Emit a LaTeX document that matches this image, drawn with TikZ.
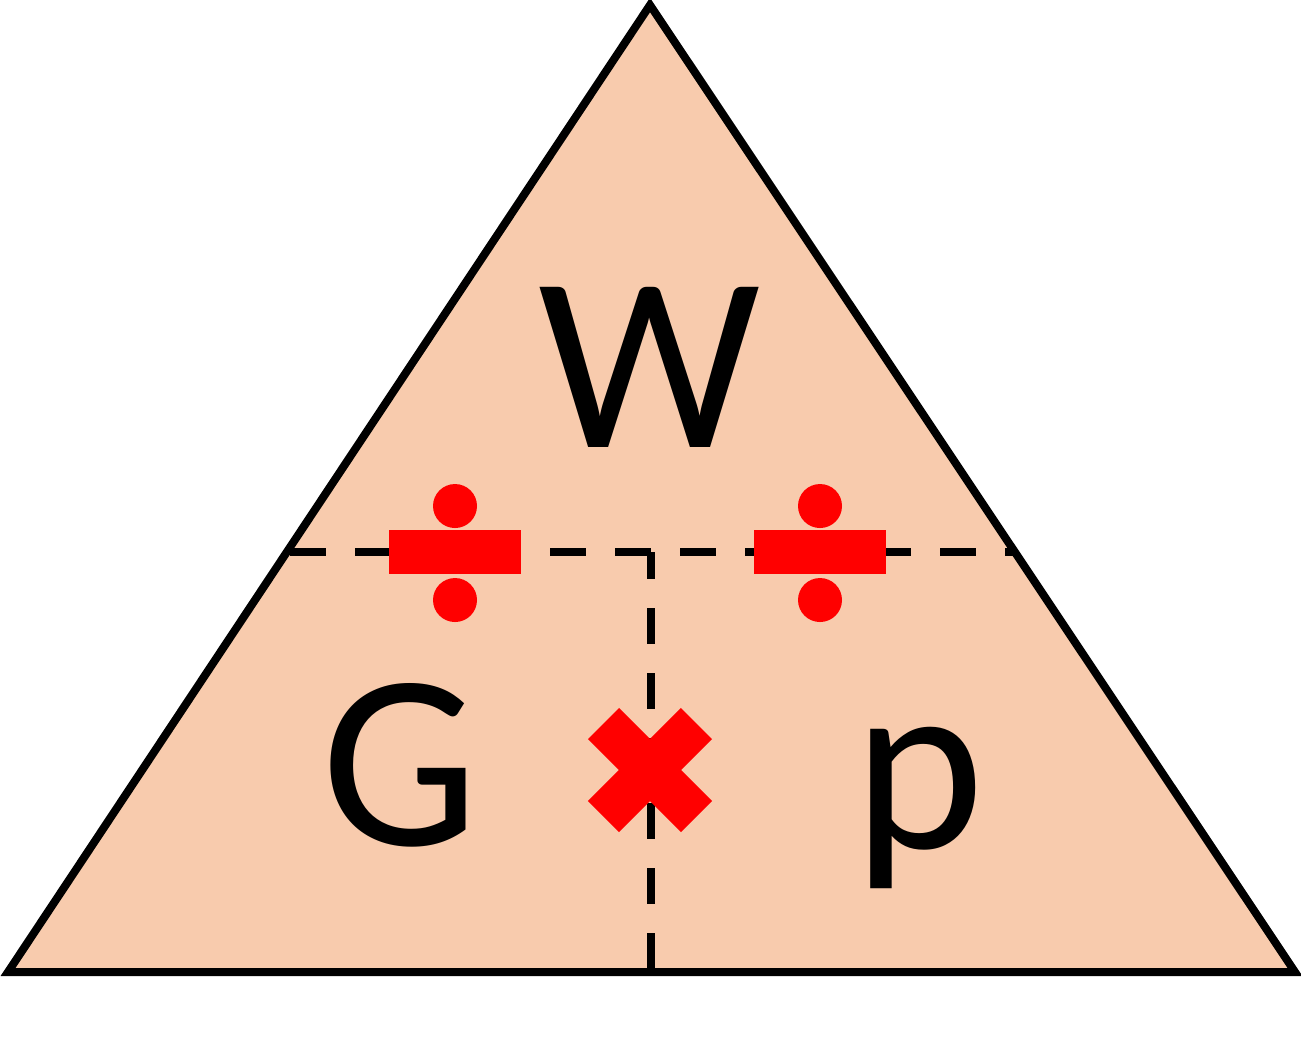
\documentclass[tikz,border=0pt]{standalone}
\usepackage{fontspec}
\setmainfont{Carlito}
\definecolor{peach}{HTML}{F8CBAD}
\definecolor{opred}{HTML}{FF0000}

\begin{document}
\begin{tikzpicture}[x=0.01cm,y=-0.01cm,
  letter/.style={anchor=base,inner sep=0pt,font=\fontsize{71}{71}\selectfont},
  split/.style={black,line width=0.085cm,dash pattern=on 0.36cm off 0.29cm},
  opsign/.style={opred,draw=none}]
  \useasboundingbox (0,0) rectangle (1301,1062);
  % corners of the triangle
  \coordinate (top)   at (650,5);
  \coordinate (left)  at (8,972);
  \coordinate (right) at (1295,972);
  \filldraw[fill=peach,draw=black,line width=0.08cm,line join=miter] (top) -- (left) -- (right) -- cycle;
  % dashed split lines
  \coordinate (hl)  at (290,552);
  \coordinate (hr)  at (1014,552);
  \coordinate (vt)  at (651,552);
  \coordinate (vb)  at (651,972);
  \draw[split] (hl) -- (hr);
  \draw[split,dash phase=0.09cm] (vt) -- (vb);
  % letters
  \node[letter] (W) at (650,447) {W};
  \node[letter] (G) at (400,845) {G};
  \node[letter] (p) at (919,848) {p};
  % division signs
  \foreach \x/\n in {455/divL,820/divR}{
    \fill[opsign] (\x-66,530) rectangle (\x+66,574);
    \fill[opsign] (\x,506) circle (22);
    \fill[opsign] (\x,600) circle (22);
  }
  % multiplication sign
  \coordinate (times) at (650,770);
  \draw[opred,line width=0.44cm] ([shift={(-46.5,-46.5)}]times) -- ([shift={(46.5,46.5)}]times);
  \draw[opred,line width=0.44cm] ([shift={(-46.5,46.5)}]times) -- ([shift={(46.5,-46.5)}]times);
\end{tikzpicture}
\end{document}
